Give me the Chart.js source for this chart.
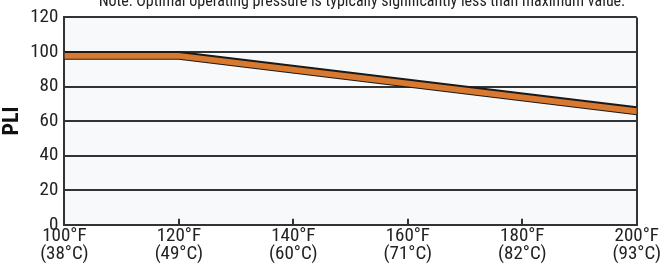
<!DOCTYPE html>
<html>
<head>
<meta charset="utf-8">
<script src="https://cdn.jsdelivr.net/npm/chart.js@4"></script>
<style>
  html, body { margin: 0; padding: 0; background: #fff; }
  #wrap { width: 663px; height: 266px; }
</style>
</head>
<body>
<div id="wrap"><canvas id="plChart"></canvas></div>
<script>
// temperatures (F) and matching celsius labels
const tempF = [100, 120, 140, 160, 180, 200];
const tempC = ['(38°C)', '(49°C)', '(60°C)', '(71°C)', '(82°C)', '(93°C)'];

// band edges of the pressure rating curve
const bandX = [100, 120, 200];
const upperPli = [100, 100, 68];
const lowerPli = [96, 96, 64];

const noteText = 'Note: Optimal operating pressure is typically significantly less than maximum value.';
const fontName = '"Roboto Condensed", "Liberation Sans", sans-serif';

const toPoints = (xs, ys) => xs.map((x, i) => ({ x: x, y: ys[i] }));

// chart area background + note + inner x tick marks
const extras = {
    id: 'extras',
    beforeDraw(chart) {
        const { ctx, chartArea: a } = chart;
        ctx.save();
        ctx.fillStyle = '#f8f9fb';
        ctx.fillRect(a.left, a.top, a.right - a.left, a.bottom - a.top);
        ctx.restore();
    },
    afterDraw(chart) {
        const { ctx, chartArea: a } = chart;
        const xs = chart.scales.x;
        ctx.save();
        ctx.strokeStyle = '#333';
        ctx.lineWidth = 2;
        tempF.slice(1, -1).forEach(t => {
            const px = Math.round(xs.getPixelForValue(t));
            ctx.beginPath();
            ctx.moveTo(px, a.bottom);
            ctx.lineTo(px, a.bottom - 6);
            ctx.stroke();
        });
        ctx.fillStyle = '#222';
        ctx.font = '16px ' + fontName;
        ctx.textAlign = 'center';
        ctx.textBaseline = 'alphabetic';
        ctx.fillText(noteText, 362, 6);
        ctx.restore();
    }
};

const pliData = {
    datasets: [
        {
            label: 'upper',
            data: toPoints(bandX, upperPli),
            borderColor: '#1a1a1a',
            borderWidth: 2,
            backgroundColor: '#d8792f',
            fill: '+1',
            pointRadius: 0,
            tension: 0
        },
        {
            label: 'lower',
            data: toPoints(bandX, lowerPli),
            borderColor: '#1a1a1a',
            borderWidth: 2,
            fill: false,
            pointRadius: 0,
            tension: 0
        }
    ]
};

const pliConfig = {
    type: 'line',
    data: pliData,
    options: {
        responsive: true,
        maintainAspectRatio: false,
        animation: false,
        layout: {
            padding: { top: 6, right: 4, left: 0, bottom: 0 }
        },
        plugins: {
            legend: { display: false },
            tooltip: { enabled: false }
        },
        scales: {
            x: {
                type: 'linear',
                min: 100,
                max: 200,
                afterBuildTicks: (scale) => {
                    scale.ticks = tempF.map(v => ({ value: v }));
                },
                ticks: {
                    color: '#222',
                    font: { family: fontName, size: 19, lineHeight: 0.98 },
                    padding: 2,
                    maxRotation: 0,
                    autoSkip: false,
                    callback: (value) => {
                        const i = tempF.indexOf(value);
                        return [value + '°F', tempC[i]];
                    }
                },
                grid: {
                    color: (c) => (c.index === 0 || c.index === tempF.length - 1) ? '#333' : 'rgba(0,0,0,0)',
                    lineWidth: 2,
                    drawTicks: false
                },
                border: { color: '#333', width: 2 }
            },
            y: {
                min: 0,
                max: 120,
                ticks: {
                    stepSize: 20,
                    color: '#222',
                    font: { family: fontName, size: 19 },
                    padding: 6
                },
                grid: {
                    color: '#333',
                    lineWidth: 2,
                    drawTicks: false
                },
                border: { color: '#333', width: 2 },
                title: {
                    display: true,
                    text: 'PLI',
                    color: '#111',
                    font: { family: fontName, size: 22, weight: 'bold', lineHeight: 1.1 },
                    padding: { top: 0, bottom: 0 }
                }
            }
        }
    },
    plugins: [extras]
};

new Chart('plChart', pliConfig);
</script>
</body>
</html>
